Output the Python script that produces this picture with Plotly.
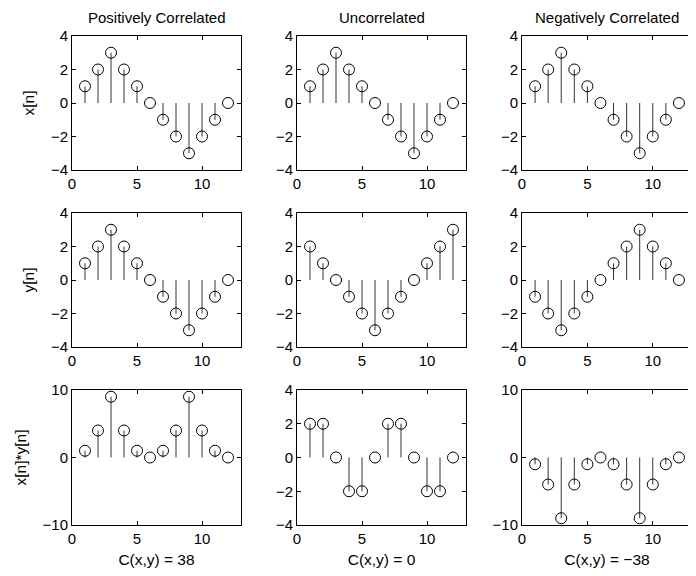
import plotly.graph_objects as go

n = list(range(1, 13))
x_sig = [1, 2, 3, 2, 1, 0, -1, -2, -3, -2, -1, 0]
y_pos = [1, 2, 3, 2, 1, 0, -1, -2, -3, -2, -1, 0]
y_unc = [2, 1, 0, -1, -2, -3, -2, -1, 0, 1, 2, 3]
y_neg = [-1, -2, -3, -2, -1, 0, 1, 2, 3, 2, 1, 0]
p_pos = [1, 4, 9, 4, 1, 0, 1, 4, 9, 4, 1, 0]
p_unc = [2, 2, 0, -2, -2, 0, 2, 2, 0, -2, -2, 0]
p_neg = [-1, -4, -9, -4, -1, 0, -1, -4, -9, -4, -1, 0]

col_titles = ["Positively Correlated", "Uncorrelated", "Negatively Correlated"]
row_labels = ["x[n]", "y[n]", "x[n]*y[n]"]
bottom_labels = ["C(x,y) = 38", "C(x,y) = 0", "C(x,y) = \u221238"]

grid = [
    [x_sig, x_sig, x_sig],
    [y_pos, y_unc, y_neg],
    [p_pos, p_unc, p_neg],
]
yranges = [
    [[-4, 4], [-4, 4], [-4, 4]],
    [[-4, 4], [-4, 4], [-4, 4]],
    [[-10, 10], [-4, 4], [-10, 10]],
]
yticks = {4: [-4, -2, 0, 2, 4], 10: [-10, 0, 10]}

# page body has an 8px margin; the figure is sized to fill the rest of the window
OFF = 8
W, H = 696 - OFF, 576 - OFF
xdom_px = [(72, 241), (297, 466), (522, 692)]
ydom_px = [(36, 170), (213, 347), (390, 525)]

FONT = "Liberation Sans, Arial, Helvetica, sans-serif"
TICK_FS = 15
LABEL_FS = 15.5
fig = go.Figure()

def neg(v):
    return str(v).replace("-", "\u2212")

k = 0
for r in range(3):
    for c in range(3):
        k += 1
        xa = "x" if k == 1 else f"x{k}"
        ya = "y" if k == 1 else f"y{k}"
        vals = grid[r][c]
        sx, sy = [], []
        for i, v in zip(n, vals):
            sx += [i, i, None]
            sy += [0, v, None]
        fig.add_trace(go.Scatter(x=sx, y=sy, mode="lines",
                                 line=dict(color="#333333", width=1),
                                 xaxis=xa, yaxis=ya, showlegend=False, hoverinfo="skip"))
        fig.add_trace(go.Scatter(x=n, y=vals, mode="markers",
                                 marker=dict(symbol="circle-open", size=11,
                                             color="black", line=dict(width=1)),
                                 xaxis=xa, yaxis=ya, showlegend=False))
        x0, x1 = xdom_px[c]
        y0, y1 = ydom_px[r]
        x0, x1, y0, y1 = x0 - OFF, x1 - OFF, y0 - OFF, y1 - OFF
        rng = yranges[r][c]
        tv = yticks[rng[1]]
        axcommon = dict(showgrid=False, zeroline=False, showline=True, linecolor="black",
                        linewidth=1, mirror="allticks", ticks="inside", ticklen=4,
                        tickcolor="black", automargin=False,
                        tickfont=dict(family=FONT, size=TICK_FS, color="black"))
        xkey = "xaxis" if k == 1 else f"xaxis{k}"
        ykey = "yaxis" if k == 1 else f"yaxis{k}"
        fig.update_layout(**{
            xkey: dict(domain=[x0 / W, min(x1 / W, 1)], range=[0, 13], anchor=ya,
                       tickvals=[0, 5, 10], ticktext=["0", "5", "10"], **axcommon),
            ykey: dict(domain=[1 - y1 / H, 1 - y0 / H], range=rng, anchor=xa,
                       tickvals=tv, ticktext=[neg(t) for t in tv], **axcommon),
        })
        if c == 0:
            fig.layout[ykey].title = dict(text=row_labels[r],
                                          font=dict(family=FONT, size=LABEL_FS, color="black"),
                                          standoff=12)
        if r == 2:
            fig.layout[xkey].title = dict(text=bottom_labels[c],
                                          font=dict(family=FONT, size=LABEL_FS, color="black"),
                                          standoff=8)

for c in range(3):
    x0, x1 = xdom_px[c]
    fig.add_annotation(x=((x0 + x1) / 2 - OFF) / W, y=1 - (18 - OFF) / H, xref="paper", yref="paper",
                       xanchor="center", yanchor="middle",
                       text=col_titles[c], showarrow=False,
                       font=dict(family=FONT, size=15, color="black"))

fig.update_layout(width=W, height=H, margin=dict(l=0, r=0, t=0, b=0, autoexpand=False),
                  paper_bgcolor="white", plot_bgcolor="white",
                  font=dict(family=FONT, size=15, color="black"))
fig.write_html("out.html")
